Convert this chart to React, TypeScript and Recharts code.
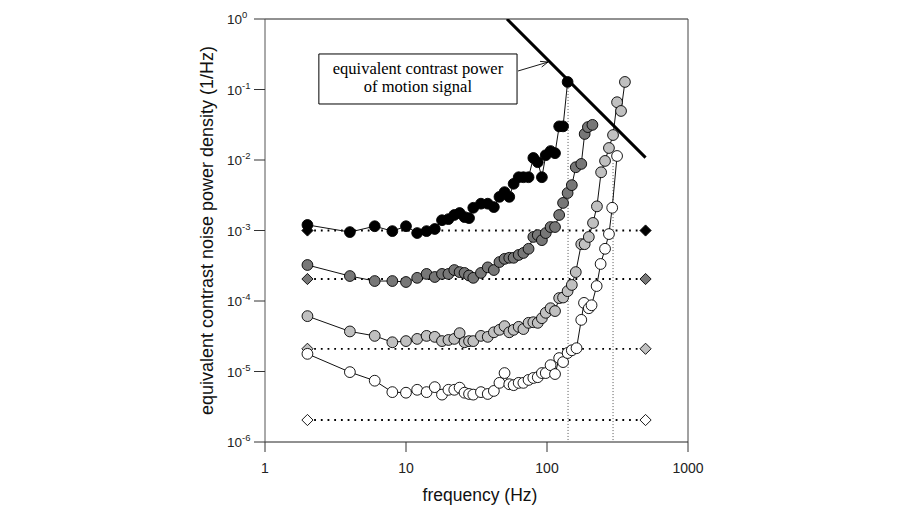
import React from 'react';
import {
  ComposedChart,
  Scatter,
  XAxis,
  YAxis,
  ReferenceLine,
  ReferenceArea,
} from 'recharts';

// frequencies shared by all four curves (Hz)
const baseFreq = [
  2, 4, 6, 8, 10, 12, 14, 16, 18, 20, 22, 24, 26, 28, 30, 34, 38, 42, 46, 50,
  54, 58, 63, 68, 74, 80, 86, 92, 98, 106, 114,
];

const blackBase = [
  1.2e-3, 9.5e-4, 1.15e-3, 9.8e-4, 1.15e-3, 9.2e-4, 9.8e-4, 1.05e-3, 1.4e-3, 1.45e-3,
  1.66e-3, 1.77e-3, 1.55e-3, 1.5e-3, 2.1e-3, 2.4e-3, 2.4e-3, 2.15e-3, 3.0e-3, 3.5e-3,
  3.0e-3, 4.6e-3, 5.7e-3, 5.7e-3, 5.7e-3, 1.07e-2, 9.3e-3, 5.7e-3, 1.17e-2, 1.34e-2,
  1.25e-2,
];
const blackTailFreq = [122, 130, 140];
const blackTail = [3.0e-2, 3.0e-2, 0.128];

const darkBase = [
  3.24e-4, 2.26e-4, 1.92e-4, 1.92e-4, 1.86e-4, 2.13e-4, 2.42e-4, 2.19e-4, 2.42e-4, 2.42e-4,
  2.75e-4, 2.57e-4, 2.5e-4, 2.3e-4, 2.13e-4, 2.5e-4, 3.0e-4, 2.75e-4, 3.57e-4, 3.96e-4,
  4.1e-4, 4.1e-4, 4.5e-4, 4.8e-4, 5.5e-4, 8.1e-4, 8.6e-4, 7.3e-4, 9.2e-4, 1.12e-3,
  1.12e-3,
];
const darkTailFreq = [122, 130, 140, 150, 160, 175, 185, 195, 210];
const darkTail = [1.66e-3, 2.46e-3, 3.4e-3, 4.4e-3, 7.9e-3, 8.8e-3, 2.34e-2, 2.93e-2, 3.15e-2];

const lightBase = [
  6.1e-5, 3.7e-5, 3.2e-5, 2.6e-5, 2.7e-5, 2.9e-5, 3.2e-5, 3.1e-5, 2.7e-5, 2.8e-5,
  2.9e-5, 3.5e-5, 2.6e-5, 2.7e-5, 2.7e-5, 3.2e-5, 3.1e-5, 3.6e-5, 3.9e-5, 4.4e-5,
  3.6e-5, 3.9e-5, 4.3e-5, 4.0e-5, 4.9e-5, 5.0e-5, 4.9e-5, 5.7e-5, 6.8e-5, 7.9e-5,
  7.2e-5,
];
const lightTailFreq = [122, 130, 140, 150, 160, 175, 185, 198, 212, 226, 242, 258, 275, 294, 314, 335, 357];
const lightTail = [
  1.1e-4, 1.12e-4, 1.38e-4, 1.69e-4, 2.57e-4, 6.4e-4, 6.4e-4, 8.1e-4, 1.28e-3, 2.2e-3,
  6.7e-3, 9.7e-3, 1.48e-2, 2.26e-2, 6.6e-2, 4.96e-2, 0.128,
];

const whiteBase = [
  1.78e-5, 9.8e-6, 7.4e-6, 5.1e-6, 5.0e-6, 5.5e-6, 5.1e-6, 6.0e-6, 4.7e-6, 5.5e-6,
  5.5e-6, 5.9e-6, 5.0e-6, 4.8e-6, 4.7e-6, 5.1e-6, 4.8e-6, 5.3e-6, 6.9e-6, 9.5e-6,
  6.6e-6, 6.4e-6, 6.9e-6, 6.9e-6, 7.6e-6, 8.1e-6, 8.3e-6, 9.5e-6, 9.5e-6, 1.23e-5,
  9.2e-6,
];
const whiteTailFreq = [122, 130, 140, 150, 162, 175, 183, 198, 207, 225, 240, 258, 275, 290, 314];
const whiteTail = [
  1.55e-5, 1.36e-5, 1.83e-5, 2.0e-5, 2.14e-5, 5.4e-5, 9.4e-5, 7.9e-5, 8.7e-5, 1.63e-4,
  3.35e-4, 5.5e-4, 8.9e-4, 2.1e-3, 1.14e-2,
];

// dotted reference levels, drawn between the two diamond markers
const levelFreq = [2, 500];
const levelValues = [1.0e-3, 2.05e-4, 2.1e-5, 2.05e-6];

// signal power line (ends) and the vertical dotted drop lines
const signalFreq = [52, 500];
const signalPower = [1, 0.0108];
const dropFreq = [141, 294];
const dropTop = [0.128, 0.011];

const xTicks = [1, 10, 100, 1000];
const yTicks = [1e-6, 1e-5, 1e-4, 1e-3, 1e-2, 1e-1, 1];

const FILLS = ['#000000', '#777777', '#c0c0c0', '#ffffff'];

const W = 884;
const H = 504;
const PLOT_LEFT = 257;
const PLOT_TOP = 11;
const PLOT_RIGHT = 680;
const PLOT_BOTTOM = 434;
const Y_AXIS_W = 60;
const X_AXIS_H = 40;

const SANS = '"Liberation Sans", Arial, Helvetica, sans-serif';
const SERIF = '"Liberation Serif", "Times New Roman", serif';

const pts = (f: number[], v: number[]) => f.map((x, i) => ({ x, y: v[i] }));

const series = [
  pts([...baseFreq, ...whiteTailFreq], [...whiteBase, ...whiteTail]),
  pts([...baseFreq, ...lightTailFreq], [...lightBase, ...lightTail]),
  pts([...baseFreq, ...darkTailFreq], [...darkBase, ...darkTail]),
  pts([...baseFreq, ...blackTailFreq], [...blackBase, ...blackTail]),
];
const seriesFill = [FILLS[3], FILLS[2], FILLS[1], FILLS[0]];

const circle = (fill: string) => (p: any) =>
  <circle cx={p.cx} cy={p.cy} r={5.4} fill={fill} stroke="#000" strokeWidth={0.9} />;

const diamond = (fill: string) => (p: any) => {
  const s = 5.6;
  return (
    <polygon
      points={`${p.cx},${p.cy - s} ${p.cx + s},${p.cy} ${p.cx},${p.cy + s} ${p.cx - s},${p.cy}`}
      fill={fill}
      stroke="#000"
      strokeWidth={0.9}
    />
  );
};

const noShape = () => <g />;

function YTick({ y, payload }: any) {
  const exp = Math.round(Math.log10(payload.value));
  return (
    <g>
      <line x1={PLOT_LEFT - 11} x2={PLOT_LEFT} y1={y} y2={y} stroke="#333" strokeWidth={1} />
      <text x={PLOT_LEFT - 38} y={y + 5} fontSize={13.5} fontFamily={SANS} fill="#222">
        10
        <tspan dy={-6} fontSize={9.5}>
          {exp === 0 ? '0' : `-${-exp}`}
        </tspan>
      </text>
    </g>
  );
}

function XTick({ x, payload }: any) {
  return (
    <g>
      <line x1={x} x2={x} y1={PLOT_BOTTOM} y2={PLOT_BOTTOM + 10} stroke="#333" strokeWidth={1} />
      <text x={x} y={PLOT_BOTTOM + 31} textAnchor="middle" fontSize={14} fontFamily={SANS} fill="#222">
        {payload.value}
      </text>
    </g>
  );
}

const boxLabel = (props: any) => {
  const vb = props.viewBox || {};
  const cx = vb.x + vb.width / 2;
  return (
    <g>
      <text x={cx} y={vb.y + 20} textAnchor="middle" fontSize={16.5} fontFamily={SERIF} fill="#000">
        equivalent contrast power
      </text>
      <text x={cx} y={vb.y + 38} textAnchor="middle" fontSize={16.5} fontFamily={SERIF} fill="#000">
        of motion signal
      </text>
    </g>
  );
};

const arrowShape = (p: any) => {
  const { x1, y1, x2, y2 } = p;
  const a = Math.atan2(y2 - y1, x2 - x1);
  const len = 8;
  const spread = 0.38;
  const w1x = x2 - len * Math.cos(a - spread);
  const w1y = y2 - len * Math.sin(a - spread);
  const w2x = x2 - len * Math.cos(a + spread);
  const w2y = y2 - len * Math.sin(a + spread);
  return (
    <g stroke="#000" strokeWidth={0.9} fill="none">
      <line x1={x1} y1={y1} x2={x2} y2={y2} />
      <polyline points={`${w1x},${w1y} ${x2},${y2} ${w2x},${w2y}`} />
    </g>
  );
};

export default function App() {
  return (
    <div style={{ width: W, height: H }}>
      <ComposedChart
        width={W}
        height={H}
        margin={{
          top: PLOT_TOP,
          right: W - PLOT_RIGHT,
          left: PLOT_LEFT - Y_AXIS_W,
          bottom: H - PLOT_BOTTOM - X_AXIS_H,
        }}
      >
        <XAxis
          type="number"
          dataKey="x"
          scale="log"
          domain={[1, 1000]}
          ticks={xTicks}
          allowDataOverflow
          height={X_AXIS_H}
          axisLine={{ stroke: '#222', strokeWidth: 1 }}
          tickLine={false}
          tick={<XTick />}
          label={{
            content: () => (
              <text
                x={472}
                y={PLOT_BOTTOM + 59}
                textAnchor="middle"
                fontSize={17.5}
                fontFamily={SANS}
                fill="#111"
              >
                frequency (Hz)
              </text>
            ),
          }}
        />
        <YAxis
          type="number"
          dataKey="y"
          scale="log"
          domain={[1e-6, 1]}
          ticks={yTicks}
          allowDataOverflow
          width={Y_AXIS_W}
          axisLine={{ stroke: '#555', strokeWidth: 1 }}
          tickLine={false}
          tick={<YTick />}
          label={{
            content: () => {
              const cx = PLOT_LEFT - 52;
              const cy = (PLOT_TOP + PLOT_BOTTOM) / 2;
              return (
                <text
                  x={cx}
                  y={cy}
                  transform={`rotate(-90 ${cx} ${cy})`}
                  textAnchor="middle"
                  fontSize={18}
                  fontFamily={SANS}
                  fill="#111"
                >
                  equivalent contrast noise power density (1/Hz)
                </text>
              );
            },
          }}
        />

        <ReferenceLine y={1} stroke="#222" strokeWidth={1} />
        <ReferenceLine x={1000} stroke="#444" strokeWidth={1} />

        {/* dotted drop lines */}
        {dropFreq.map((f, i) => (
          <Scatter
            key={`drop-${f}`}
            data={[{ x: f, y: dropTop[i] }, { x: f, y: 1e-6 }]}
            line={{ stroke: '#555', strokeWidth: 1, strokeDasharray: '1 2' }}
            shape={noShape}
            isAnimationActive={false}
          />
        ))}

        {/* dotted reference levels with diamond ends */}
        {levelValues.map((v, i) => (
          <Scatter
            key={`lvl-${i}`}
            data={levelFreq.map(x => ({ x, y: v }))}
            line={{ stroke: '#000', strokeWidth: 1.8, strokeDasharray: '1.8 4.9' }}
            shape={diamond(FILLS[i])}
            isAnimationActive={false}
          />
        ))}

        {series.map((d, i) => (
          <Scatter
            key={`s-${i}`}
            data={d}
            line={{ stroke: '#111', strokeWidth: 1 }}
            shape={circle(seriesFill[i])}
            isAnimationActive={false}
          />
        ))}

        {/* equivalent contrast power of motion signal */}
        <Scatter
          data={pts(signalFreq, signalPower)}
          line={{ stroke: '#000', strokeWidth: 3 }}
          shape={noShape}
          isAnimationActive={false}
        />

        <ReferenceArea
          x1={2.41}
          x2={61.3}
          y1={0.0623}
          y2={0.319}
          fill="#fff"
          fillOpacity={1}
          stroke="#000"
          strokeWidth={1}
          label={boxLabel}
        />
        <ReferenceLine
          segment={[
            { x: 62.3, y: 0.183 },
            { x: 101.6, y: 0.245 },
          ]}
          shape={arrowShape}
        />
      </ComposedChart>
    </div>
  );
}
